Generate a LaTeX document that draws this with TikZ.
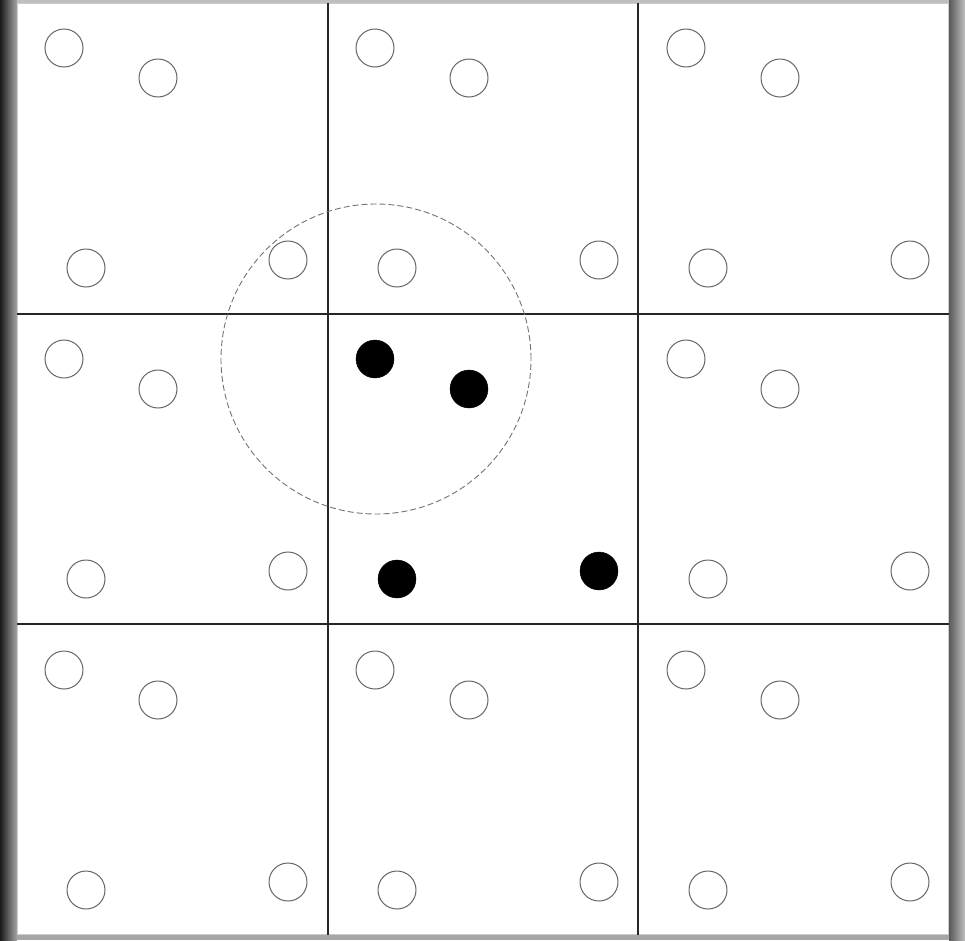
\documentclass[tikz,border=0pt]{standalone}
\usetikzlibrary{shapes.geometric}
\begin{document}
\begin{tikzpicture}[x=1pt,y=-1pt,
  gridline/.style={draw=black!85,line width=1.1pt},
  hollow/.style={circle,draw=black!60,line width=1pt,minimum size=38pt,inner sep=0pt},
  solid dot/.style={circle,fill=black,draw=black,minimum size=38pt,inner sep=0pt},
  range circle/.style={circle,draw=black!55,dash pattern=on 6pt off 3pt,line width=0.9pt,minimum size=310pt,inner sep=0pt}]
\useasboundingbox (0,0) rectangle (965,940);
% frame and shadows
\fill[white] (0,0) rectangle (965,940);
\shade[left color=black!90,right color=black!35] (0,0) rectangle (17,940);
\shade[left color=black!65,right color=black!25] (949,0) rectangle (965,940);
\fill[black!25] (17,0) rectangle (949,3);
\fill[black!35] (17,935) rectangle (949,940);
\draw[black!20,line width=0.8pt] (17.5,3.5) rectangle (948.5,934.5);
% grid
\coordinate (v1t) at (328,3); \coordinate (v1b) at (328,935);
\coordinate (v2t) at (638,3); \coordinate (v2b) at (638,935);
\coordinate (h1l) at (17,314); \coordinate (h1r) at (949,314);
\coordinate (h2l) at (17,624); \coordinate (h2r) at (949,624);
\draw[gridline] (v1t) -- (v1b);
\draw[gridline] (v2t) -- (v2b);
\draw[gridline] (h1l) -- (h1r);
\draw[gridline] (h2l) -- (h2r);
% particles
\foreach \i in {0,1,2}{
  \foreach \j in {0,1,2}{
    \pgfmathsetmacro{\ox}{17+311*\i}
    \pgfmathsetmacro{\oy}{3+311*\j}
    \ifnum\i=1 \ifnum\j=1
      \def\sty{solid dot}
    \else \def\sty{hollow}\fi
    \else \def\sty{hollow}\fi
    \node[\sty] (p-\i-\j-a) at (\ox+47,\oy+45) {};
    \node[\sty] (p-\i-\j-b) at (\ox+141,\oy+75) {};
    \node[\sty] (p-\i-\j-c) at (\ox+69,\oy+265) {};
    \node[\sty] (p-\i-\j-d) at (\ox+271,\oy+257) {};
  }
}
% cutoff circle
\node[range circle] (cutoff) at (376,359) {};
\end{tikzpicture}
\end{document}
